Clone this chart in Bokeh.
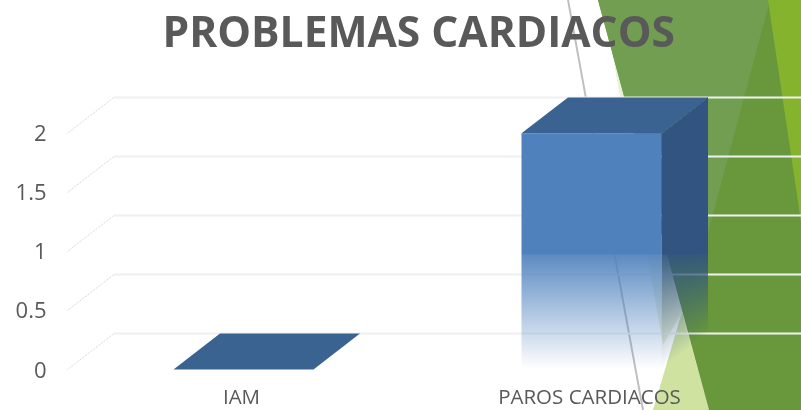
import numpy as np
from urllib.parse import quote
from bokeh.plotting import figure
from bokeh.models import Range1d, FixedTicker, Title
from bokeh.embed import file_html
from bokeh.resources import INLINE

categories = ["IAM", "PAROS CARDIACOS"]
values = [0, 2]
y_ticks = [0, 0.5, 1, 1.5, 2]
y_labels = {0: "0", 0.5: "0.5", 1: "1", 1.5: "1.5", 2: "2"}
title_text = "PROBLEMAS CARDIACOS"

# layout: pixels of the page <-> data
W, H = 801, 410
OFF = 5                 # canvas starts this far above the page, to lift the title
F_L, F_R, F_T, F_B = 60, 801, 62, 371
PX_X = 348.0            # px per category
PX_Y = 118.5            # px per value unit
X0_PX, Y0_PX = 241.0, 370.0
DX, DY = 46.5 / PX_X, 36.0 / PX_Y   # 3D depth in data units
BAR_W = 140 / PX_X
BAR_SHIFT = 2 / PX_X

# slide background behind the transparent chart
deco = [
    ("567,0 569,0 644,410 642,410", "#bfbfbf"),
    ("611,45 663,345 682,312 624,97", "#e9f1d8"),
    ("653,410 682,312 709,410", "#cfe2a0"),
    ("598,0 801,0 801,410 709,410", "#69983c"),
    ("598,0 770,0 706,240 657,218", "#719e50"),
    ("768,0 801,0 801,222", "#85b32e"),
]
svg = f"<svg xmlns='http://www.w3.org/2000/svg' width='{W}' height='{H}'><rect width='{W}' height='{H}' fill='white'/>" + \
      "".join(f"<polygon points='{pts}' fill='{c}'/>" for pts, c in deco) + "</svg>"

CANVAS_H = 417
p = figure(width=W, height=CANVAS_H, output_backend="svg", toolbar_location=None,
           x_range=Range1d((F_L - X0_PX) / PX_X, (F_R - X0_PX) / PX_X),
           y_range=Range1d((Y0_PX - F_B) / PX_Y, (Y0_PX - F_T) / PX_Y),
           min_border_left=F_L, min_border_right=W - F_R,
           min_border_top=F_T + OFF, min_border_bottom=CANVAS_H - OFF - F_B,
           background_fill_color=None, border_fill_color=None)
p.styles = {"position": "fixed", "left": "0px", "top": f"{-OFF}px",
            "background": f'url("data:image/svg+xml,{quote(svg)}") 0px {OFF}px no-repeat'}
p.outline_line_color = None
p.grid.visible = False

# back wall grid and side wall, from the tick values
xl = (67 - X0_PX) / PX_X
p.segment(x0=[xl + DX] * len(y_ticks), y0=[t + DY for t in y_ticks],
          x1=[(F_R - X0_PX) / PX_X] * len(y_ticks), y1=[t + DY for t in y_ticks],
          line_color="#f0f0f0", line_width=2)
p.segment(x0=[xl] * len(y_ticks), y0=y_ticks,
          x1=[xl + DX] * len(y_ticks), y1=[t + DY for t in y_ticks],
          line_color="#cfcfcf", line_width=1, line_dash="1 1")

FRONT = (0x4F, 0x81, 0xBD)
SIDE = (0x31, 0x55, 0x80)
TOP = "#3a6391"
FADE = 0.97

def rgba(color, alpha):
    a = (np.clip(alpha, 0, 1) * 255).astype(np.uint32)
    return (a << 24) | (color[2] << 16) | (color[1] << 8) | color[0]

for i, v in enumerate(values):
    cx = i + BAR_SHIFT
    x0, x1 = cx - BAR_W / 2, cx + BAR_W / 2
    if v > 0:
        rows = int(round(v * PX_Y))
        vv = (np.arange(rows) + 0.5) / PX_Y
        a = np.where(vv < FADE, vv / FADE * 0.93, 1.0)
        front = rgba(FRONT, a).reshape(rows, 1)
        p.image_rgba(image=[front], x=x0, y=0, dw=BAR_W, dh=v)
        cols = int(round(DX * PX_X))
        rows2 = int(round((v + DY) * PX_Y))
        img = np.zeros((rows2, cols), dtype=np.uint32)
        yy = (np.arange(rows2) + 0.5) / PX_Y
        for c in range(cols):
            t = (c + 0.5) / cols
            floor = t * DY
            local = yy - floor
            al = np.where(yy < FADE, local / (FADE - floor) * 0.95, 1.0)
            al = np.where((local < 0) | (local > v), 0, al)
            img[:, c] = rgba(SIDE, al)
        p.image_rgba(image=[img], x=x1, y=0, dw=DX, dh=v + DY)
    p.patch([x0, x1, x1 + DX, x0 + DX], [v, v, v + DY, v + DY], fill_color=TOP, line_color=None)

ax = p.yaxis[0]
ax.ticker = FixedTicker(ticks=y_ticks)
ax.major_label_overrides = y_labels
ax.axis_line_color = None
ax.major_tick_line_color = None
ax.minor_tick_line_color = None
ax.major_tick_out = 0
ax.major_tick_in = 0
ax.major_label_text_font = "Open Sans"
ax.major_label_text_font_size = "22px"
ax.major_label_text_color = "#595959"
ax.major_label_standoff = 14

bx = p.xaxis[0]
bx.ticker = FixedTicker(ticks=list(range(len(categories))))
bx.major_label_overrides = dict(enumerate(categories))
bx.axis_line_color = None
bx.major_tick_line_color = None
bx.minor_tick_line_color = None
bx.major_tick_out = 0
bx.major_tick_in = 0
bx.major_label_text_font = "Open Sans"
bx.major_label_text_font_size = "20.5px"
bx.major_label_text_color = "#595959"
bx.major_label_standoff = 11

t = Title(text=title_text, text_font="Open Sans", text_font_style="bold",
          text_font_size="42.5px", text_color="#595959", align="left",
          offset=102, standoff=8)
p.add_layout(t, "above")

open("out.html", "w").write(file_html(p, INLINE))
